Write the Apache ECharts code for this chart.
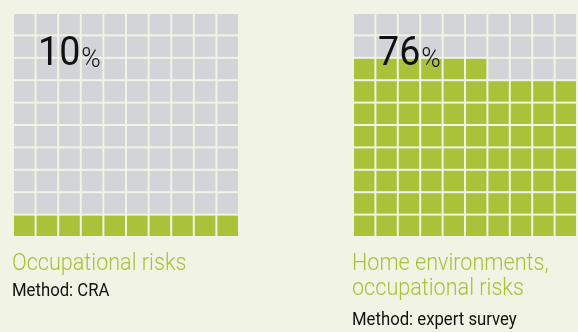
<!DOCTYPE html>
<html>
<head>
<meta charset="utf-8">
<script src="https://cdn.jsdelivr.net/npm/echarts@6/dist/echarts.min.js"></script>
<style>
  html, body { margin: 0; padding: 0; background: #f1f3e4; }
  #chart { width: 578px; height: 332px; }
</style>
</head>
<body>
<div id="chart"></div>
<script>
// Datos de los dos gráficos de waffle
const porcentajes = [10, 76];
const titulos = [['Occupational risks'], ['Home environments,', 'occupational risks']];
const metodos = ['Method: CRA', 'Method: expert survey'];
const posX = [14, 354];

const VERDE = '#a8c23a';
const GRIS = '#d3d4d8';

// Celdas: se rellenan desde abajo, de izquierda a derecha
function celdas(pct) {
    const out = [];
    for (let i = 0; i < 100; i++) {
        const fila = Math.floor(i / 10);   // 0 = fila inferior
        const col = i % 10;
        out.push([col, fila, i < pct ? 1 : 0]);
    }
    return out;
}

const chart = echarts.init(document.getElementById('chart'));

const grids = [], xAxes = [], yAxes = [], series = [], graphic = [];

porcentajes.forEach(function (pct, k) {
    grids.push({ left: posX[k], top: 14, width: 226, height: 224 });
    xAxes.push({ type: 'value', min: 0, max: 10, gridIndex: k, show: false });
    yAxes.push({ type: 'value', min: 0, max: 10, gridIndex: k, show: false });
    series.push({
        type: 'custom',
        xAxisIndex: k,
        yAxisIndex: k,
        data: celdas(pct),
        clip: false,
        renderItem: function (params, api) {
            const p0 = api.coord([api.value(0), api.value(1) + 1]);
            const p1 = api.coord([api.value(0) + 1, api.value(1)]);
            return {
                type: 'rect',
                shape: { x: p0[0], y: p0[1], width: p1[0] - p0[0] - 2, height: p1[1] - p0[1] - 2 },
                style: { fill: api.value(2) ? VERDE : GRIS }
            };
        }
    });

    // Número grande
    graphic.push({
        type: 'text',
        x: posX[k] + 24,
        y: 35,
        scaleX: 0.94,
        z: 10,
        style: {
            text: '{n|' + pct + '}{p|%}',
            rich: {
                n: { fontSize: 40, fontFamily: 'Roboto', fontWeight: 400, fill: '#111', verticalAlign: 'bottom' },
                p: { fontSize: 28, fontFamily: 'Roboto', fontWeight: 300, fill: '#111', verticalAlign: 'bottom', padding: [0, 0, 1, 1] }
            }
        }
    });

    // Títulos en verde
    titulos[k].forEach(function (t, j) {
        graphic.push({
            type: 'text',
            x: posX[k] - 2,
            y: 252 + j * 25,
            scaleX: 0.9,
            style: { text: t, fontSize: 24, fontFamily: 'Roboto', fontWeight: 300, fill: VERDE }
        });
    });

    // Método
    graphic.push({
        type: 'text',
        x: posX[k] - 2,
        y: titulos[k].length > 1 ? 311 : 282,
        scaleX: 0.88,
        style: { text: metodos[k], fontSize: 19, fontFamily: 'Roboto', fill: '#111' }
    });
});

chart.setOption({
    backgroundColor: '#f1f3e4',
    animation: false,
    grid: grids,
    xAxis: xAxes,
    yAxis: yAxes,
    series: series,
    graphic: graphic
});
</script>
</body>
</html>
